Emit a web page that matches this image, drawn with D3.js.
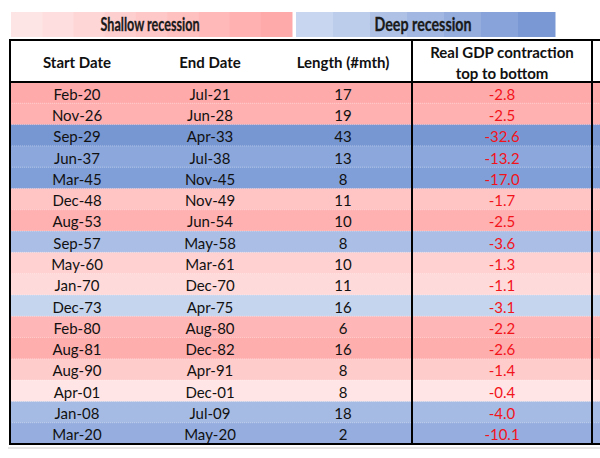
<!DOCTYPE html>
<html>
<head>
<meta charset="utf-8">
<script src="https://cdn.jsdelivr.net/npm/d3@7"></script>
<style>
  html, body { margin: 0; padding: 0; background: #ffffff; }
  svg { display: block; font-family: Lato, "Open Sans", sans-serif; }
</style>
</head>
<body>
<svg id="chart" width="600" height="458"></svg>
<script>
// ---- data ----
const startDates = ["Feb-20","Nov-26","Sep-29","Jun-37","Mar-45","Dec-48","Aug-53","Sep-57","May-60","Jan-70","Dec-73","Feb-80","Aug-81","Aug-90","Apr-01","Jan-08","Mar-20"];
const endDates   = ["Jul-21","Jun-28","Apr-33","Jul-38","Nov-45","Nov-49","Jun-54","May-58","Mar-61","Dec-70","Apr-75","Aug-80","Dec-82","Apr-91","Dec-01","Jul-09","May-20"];
const lengths    = [17,19,43,13,8,11,10,8,10,11,16,6,16,8,8,18,2];
const gdp        = [-2.8,-2.5,-32.6,-13.2,-17.0,-1.7,-2.5,-3.6,-1.3,-1.1,-3.1,-2.2,-2.6,-1.4,-0.4,-4.0,-10.1];
const headers    = [["Start Date"],["End Date"],["Length (#mth)"],["Real GDP contraction","top to bottom"]];
const legendLabels = ["Shallow recession","Deep recession"];
const shallowSteps = [0,1,2,3,4,5,6,7,8];
const deepSteps    = [0,1,2,3,4,5,6];

// ---- scales ----
const svg = d3.select("#chart");
const tableLeft = 10, tableRight = 600, tableTop = 40, headerBottom = 82, tableBottom = 444;
const divX = [412, 592];

const y = d3.scaleBand().domain(d3.range(gdp.length)).range([headerBottom, tableBottom]).padding(0);
const colX = d3.scaleOrdinal().domain([0,1,2,3]).range([77, 210, 343, 502]);

const shallowColor = d3.scaleLinear()
  .domain([-0.4, -1.1, -1.4, -1.7, -2.2, -2.5, -2.8])
  .range(["#ffe5e5", "#ffdada", "#ffcccc", "#ffc4c4", "#ffb6b6", "#ffb0b0", "#ffaaaa"])
  .clamp(true);
const deepColor = d3.scaleLinear()
  .domain([-3.1, -3.6, -4.0, -10.1, -13.2, -17.0, -32.6])
  .range(["#c6d5ee", "#abbfe6", "#a6bbe3", "#95aedf", "#8ba7dc", "#809fd8", "#7797d3"])
  .clamp(true);
const rowColor = v => v > -3 ? shallowColor(v) : deepColor(v);

// ---- legend ----
const legShallow = d3.scaleBand().domain(shallowSteps).range([11, 292]);
const legDeep = d3.scaleBand().domain(deepSteps).range([296, 555]);
const legShallowCol = d3.scaleLinear().domain([0, 8]).range(["#fee5e5", "#ffaaaa"]);
const legDeepCol = d3.scaleLinear().domain([0, 6]).range(["#c9d6ef", "#7a99d4"]);

svg.append("g").selectAll("rect").data(shallowSteps).join("rect")
  .attr("x", d => legShallow(d)).attr("y", 12)
  .attr("width", legShallow.bandwidth() + 0.5).attr("height", 25)
  .attr("fill", d => legShallowCol(d));
svg.append("g").selectAll("rect").data(deepSteps).join("rect")
  .attr("x", d => legDeep(d)).attr("y", 12)
  .attr("width", legDeep.bandwidth() + 0.5).attr("height", 25)
  .attr("fill", d => legDeepCol(d));

svg.append("g").selectAll("text").data(legendLabels).join("text")
  .attr("x", (d, i) => i === 0 ? 150 : 423)
  .attr("y", 31)
  .attr("text-anchor", "middle")
  .attr("font-size", 18).attr("font-weight", 700).attr("fill", "#1a1a1a")
  .attr("stroke", "#1a1a1a").attr("stroke-width", 0.3)
  .attr("textLength", (d, i) => i === 0 ? 99 : 97)
  .attr("lengthAdjust", "spacingAndGlyphs")
  .text(d => d);

// ---- table background ----
svg.append("rect").attr("x", tableLeft).attr("y", tableTop)
  .attr("width", tableRight - tableLeft).attr("height", headerBottom - tableTop)
  .attr("fill", "#ffffff");

const rows = svg.append("g").selectAll("g").data(gdp.map((v, i) => i)).join("g");
rows.append("rect")
  .attr("x", tableLeft).attr("y", i => y(i))
  .attr("width", tableRight - tableLeft).attr("height", y.bandwidth() + 0.5)
  .attr("fill", i => rowColor(gdp[i]));

// faint separators between rows
svg.append("g").selectAll("line").data(d3.range(1, gdp.length)).join("line")
  .attr("x1", tableLeft).attr("x2", tableRight)
  .attr("y1", i => y(i)).attr("y2", i => y(i))
  .attr("stroke", "#ffffff").attr("stroke-opacity", 0.35)
  .attr("stroke-dasharray", "1,1");

// cell text
const cellVals = i => [startDates[i], endDates[i], String(lengths[i]), gdp[i].toFixed(1)];
rows.selectAll("text").data(i => cellVals(i).map((t, c) => ({t, c, i}))).join("text")
  .attr("x", d => colX(d.c))
  .attr("y", d => y(d.i) + y.bandwidth() / 2 + 7)
  .attr("text-anchor", "middle")
  .attr("font-size", 15)
  .attr("fill", d => d.c === 3 ? "#f2141b" : "#111111")
  .text(d => d.t);

// headers
const hdr = svg.append("g").selectAll("text").data(headers).join("text")
  .attr("text-anchor", "middle")
  .attr("font-size", 15).attr("font-weight", "bold").attr("fill", "#111111");
hdr.each(function(lines, c) {
  const t = d3.select(this);
  const n = lines.length;
  lines.forEach((ln, k) => {
    t.append("tspan")
      .attr("x", colX(c))
      .attr("y", n === 1 ? 68 : 57.5 + k * 21)
      .text(ln);
  });
});

// ---- borders ----
const border = svg.append("g").attr("stroke", "#000000").attr("stroke-width", 2).attr("fill", "none");
svg.append("line").attr("x1", tableLeft - 2).attr("x2", tableRight).attr("y1", tableBottom + 4).attr("y2", tableBottom + 4)
  .attr("stroke", "#dddddd").attr("stroke-width", 1.5);
border.append("line").attr("x1", tableLeft).attr("x2", tableRight).attr("y1", tableTop).attr("y2", tableTop);
border.append("line").attr("x1", tableLeft).attr("x2", tableRight).attr("y1", headerBottom).attr("y2", headerBottom);
border.append("line").attr("x1", tableLeft).attr("x2", tableRight).attr("y1", tableBottom).attr("y2", tableBottom);
border.append("line").attr("x1", tableLeft).attr("x2", tableLeft).attr("y1", tableTop - 1).attr("y2", tableBottom + 1);
border.selectAll("line.div").data(divX).join("line").attr("class", "div")
  .attr("x1", d => d).attr("x2", d => d).attr("y1", tableTop).attr("y2", tableBottom);
</script>
</body>
</html>
